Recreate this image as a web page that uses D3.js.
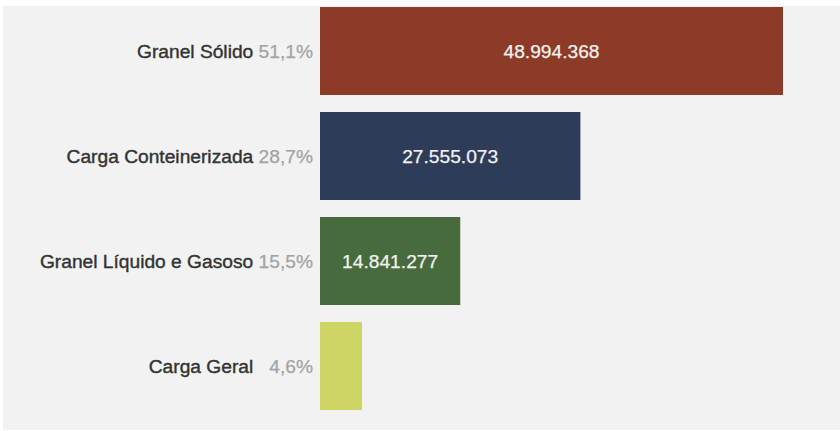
<!DOCTYPE html>
<html>
<head>
<meta charset="utf-8">
<script src="https://cdn.jsdelivr.net/npm/d3@7"></script>
<style>
  html, body { margin: 0; padding: 0; background: #ffffff; }
  svg { display: block; font-family: "Liberation Sans", Arial, sans-serif; }
</style>
</head>
<body>
<svg id="chart" width="840" height="431"></svg>
<script>
// Movimentação de cargas por natureza (toneladas)
const categories = ["Granel Sólido", "Carga Conteinerizada", "Granel Líquido e Gasoso", "Carga Geral"];
const values = [48994368, 27555073, 14841277, 4450000];
const shares = ["51,1%", "28,7%", "15,5%", "4,6%"];
const valueLabels = ["48.994.368", "27.555.073", "14.841.277", ""];
const colors = ["#8c3b27", "#2f3c59", "#476b3d", "#cdd665"];

const svg = d3.select("#chart");

// panel background
svg.append("rect")
  .attr("x", 3).attr("y", 6)
  .attr("width", 837).attr("height", 424)
  .attr("fill", "#f2f2f2");

const x = d3.scaleLinear()
  .domain([0, d3.max(values)])
  .range([320, 783]);

const y = d3.scaleBand()
  .domain(categories)
  .range([7, 410])
  .paddingInner(17 / 105)
  .paddingOuter(0);

const rows = categories.map((c, i) => ({
  cat: c, value: values[i], share: shares[i], label: valueLabels[i], color: colors[i]
}));

// bars
svg.append("g").selectAll("rect")
  .data(rows)
  .join("rect")
  .attr("x", x(0))
  .attr("y", d => y(d.cat))
  .attr("width", d => x(d.value) - x(0))
  .attr("height", y.bandwidth())
  .attr("fill", d => d.color);

// value labels inside bars
svg.append("g").selectAll("text")
  .data(rows.filter(d => d.label))
  .join("text")
  .attr("x", d => (x(0) + x(d.value)) / 2)
  .attr("y", d => y(d.cat) + y.bandwidth() / 2)
  .attr("dy", "0.36em")
  .attr("text-anchor", "middle")
  .attr("fill", "#f2f2f2")
  .attr("stroke", "#f2f2f2")
  .attr("stroke-width", 0.25)
  .attr("font-size", 19.2)
  .text(d => d.label);

// category labels with share
const lab = svg.append("g").selectAll("text")
  .data(rows)
  .join("text")
  .attr("x", 313)
  .attr("y", d => y(d.cat) + y.bandwidth() / 2)
  .attr("dy", "0.36em")
  .attr("text-anchor", "end")
  .attr("font-size", 19.2);

lab.append("tspan")
  .attr("fill", "#333333")
  .attr("stroke", "#333333")
  .attr("stroke-width", 0.4)
  .text(d => d.cat);
lab.append("tspan")
  .attr("fill", "#a3a3a3")
  .attr("stroke", "#a3a3a3")
  .attr("stroke-width", 0.25)
  .text(d => (d.cat === "Carga Geral" ? "\u00a0\u00a0\u00a0" : "\u00a0") + d.share);
</script>
</body>
</html>
